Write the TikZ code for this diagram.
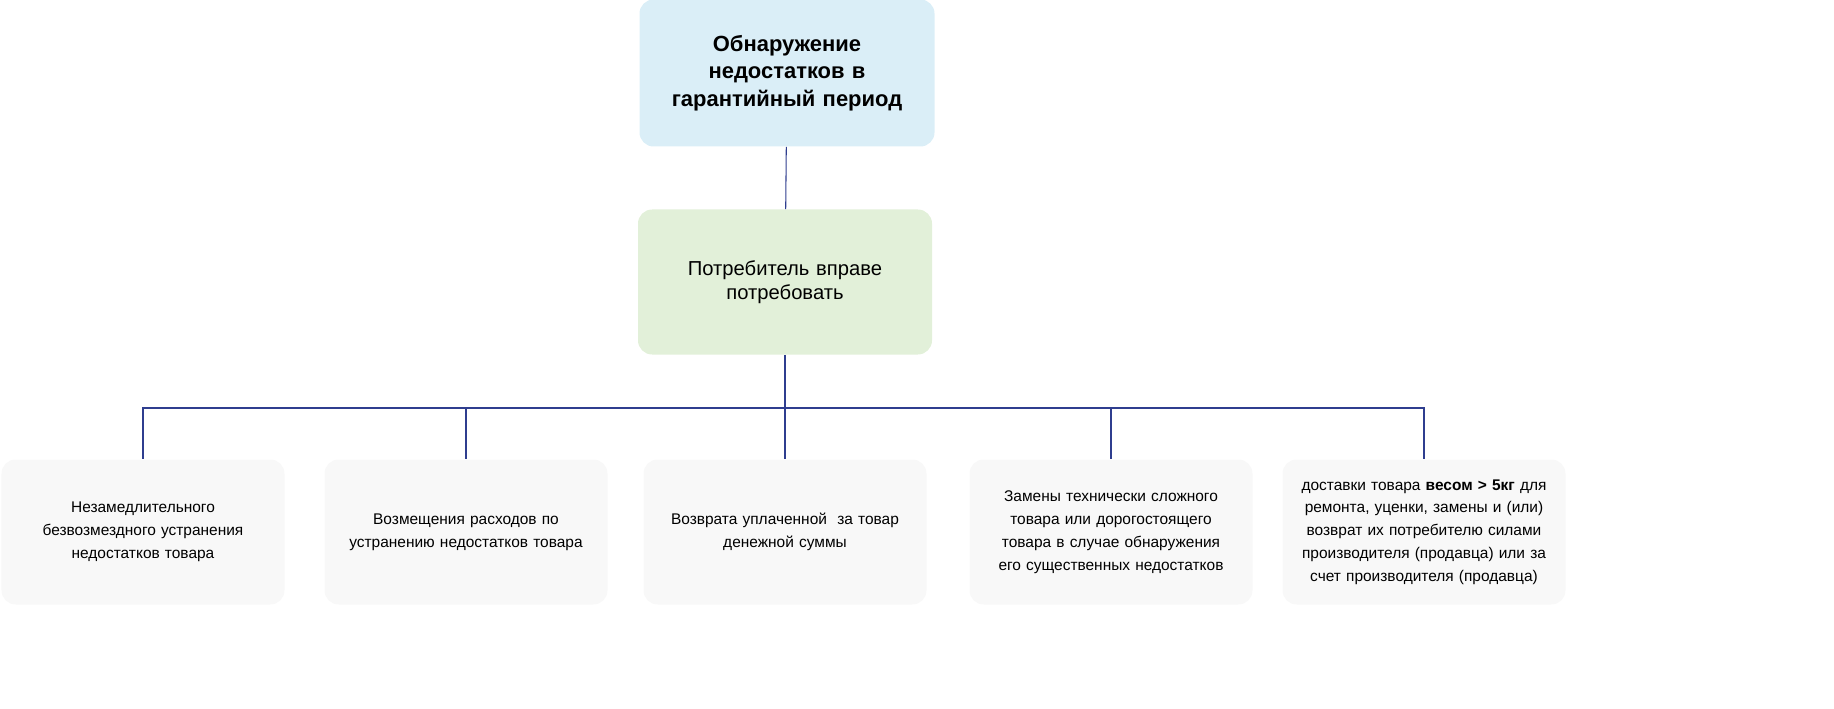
\documentclass[tikz,border=0pt]{standalone}
\usepackage{fontspec}
\setmainfont{Liberation Sans}
\definecolor{topfill}{HTML}{DAEEF7}
\definecolor{midfill}{HTML}{E2F0D9}
\definecolor{leaffill}{HTML}{F8F8F8}
\definecolor{linkcol}{HTML}{2F3E8F}
\begin{document}
\begin{tikzpicture}[
		box/.style={draw=none, rounded corners=8pt, align=center, inner sep=2pt},
		topbox/.style={box, fill=topfill, minimum width=5.9cm, minimum height=2.94cm, font=\fontsize{12.5}{15.5}\selectfont\bfseries, text width=5.3cm},
		midbox/.style={box, fill=midfill, minimum width=5.88cm, minimum height=2.9cm, font=\fontsize{11.5}{14}\selectfont, text width=5cm},
		leafbox/.style={box, fill=leaffill, minimum width=5.66cm, minimum height=2.9cm, font=\fontsize{8.8}{13}\selectfont, text width=5.3cm},
		link/.style={draw=linkcol, line width=0.6pt}
	]
	\useasboundingbox (0,0) rectangle (36.68,-14.18);
	\node[topbox] (top) at (15.74,-1.46) {Обнаружение\\недостатков в\\гарантийный период};
	\node[midbox] (mid) at (15.70,-5.64) {Потребитель вправе\\потребовать};
	\node[leafbox] (l1) at (2.86,-10.64) {Незамедлительного\\безвозмездного устранения\\недостатков товара};
	\node[leafbox] (l2) at (9.32,-10.64) {Возмещения расходов по\\устранению недостатков товара};
	\node[leafbox] (l3) at (15.70,-10.64) {Возврата уплаченной\ \ за товар\\денежной суммы};
	\node[leafbox] (l4) at (22.22,-10.64) {Замены технически сложного\\товара или дорогостоящего\\товара в случае обнаружения\\его существенных недостатков};
	\node[leafbox] (l5) at (28.48,-10.64) {доставки товара \textbf{весом > 5кг} для\\ремонта, уценки, замены и (или)\\возврат их потребителю силами\\производителя (продавца) или за\\счет производителя (продавца)};
	\coordinate (bus) at (15.70,-8.16);
	\draw[link] (top) -- (mid);
	\draw[link] (mid) -- (bus);
	\foreach \leaf in {l1,l2,l3,l4,l5}
		\draw[link] (bus) -| (\leaf.north);
\end{tikzpicture}
\end{document}
